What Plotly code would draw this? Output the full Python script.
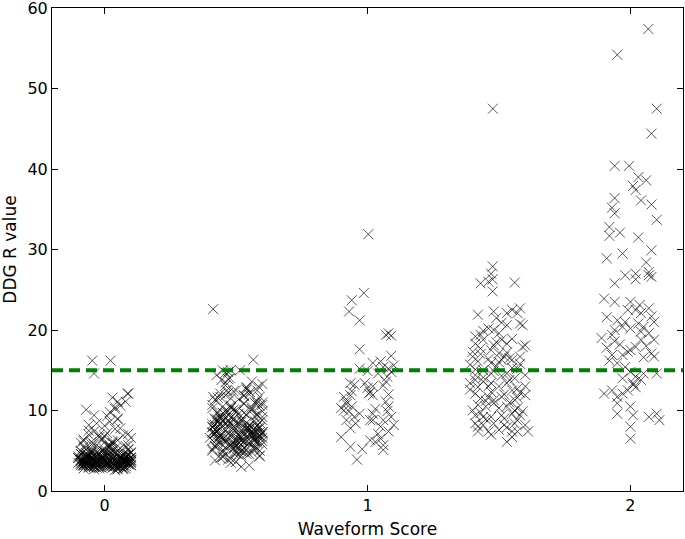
import plotly.graph_objects as go

# ---------------- data ----------------
threshold = 15
x_ticks = [0, 1, 2]
y_ticks = [0, 10, 20, 30, 40, 50, 60]

# score 0 : jitter offsets and values
g0_off = [
    -0.09,-0.05,0.02,0.07,-0.03,0.09,-0.07,0.00,0.04,-0.01,0.06,-0.08,0.03,-0.06,0.08,-0.02,0.05,-0.04,0.01,0.10,
    0.02,-0.10,0.07,-0.04,0.05,-0.07,0.09,0.00,-0.02,0.03,-0.08,0.06,-0.05,0.08,0.01,-0.03,0.04,-0.09,0.10,-0.06,
    -0.01,0.05,-0.06,0.09,0.03,-0.09,0.07,-0.03,0.01,-0.07,0.04,0.08,-0.04,0.00,0.06,-0.08,0.02,-0.05,0.10,-0.02,
    0.04,-0.08,0.01,-0.03,0.07,-0.10,0.05,0.09,-0.06,0.02,-0.01,0.06,-0.07,0.03,0.08,-0.04,0.00,-0.09,0.05,-0.05,
    -0.07,0.03,0.08,-0.02,-0.05,0.06,0.00,-0.09,0.10,0.02,-0.04,0.07,-0.06,0.04,-0.01,0.09,-0.08,0.01,0.05,-0.03,
    0.00,-0.06,0.05,-0.09,0.08,-0.03,0.03,0.07,-0.07,0.01,-0.04,0.10,-0.01,0.06,-0.08,0.04,-0.02,0.09,-0.05,0.02,
    0.06,-0.02,-0.08,0.03,0.09,-0.05,0.01,-0.10,0.04,0.07,-0.03,0.00,0.08,-0.06,0.05,-0.01,-0.07,0.02,0.10,-0.04,
    -0.03,0.08,-0.06,0.02,0.05,-0.09,0.07,-0.01,0.04,-0.07,0.09,0.00,-0.04,0.06,-0.08,0.03,0.10,-0.02,0.01,-0.05,
    0.05,-0.04,0.09,-0.07,0.02,-0.01,0.07,-0.09,0.03,0.00,-0.06,0.08,-0.03,0.04,0.06,-0.08,0.01,-0.05,0.10,-0.02,
    -0.07,0.00,0.06,-0.03,0.09,0.03,-0.09,0.05,-0.05,0.08,-0.01,0.02,-0.08,0.07,-0.04,0.04,0.01,-0.06,0.10,-0.02,
    0.03,-0.06,0.09,-0.02,0.05,-0.09,0.01,0.07,-0.04,0.00,-0.07,0.04,0.10,-0.03,0.06,-0.08,0.02,-0.05,0.08,-0.01,
    -0.05,0.08,-0.01,0.04,-0.08,0.06,-0.03,0.01,0.09,-0.06,0.03,-0.10,0.07,-0.02,0.05,0.00,-0.07,0.02,-0.04,0.10,
    0.01,-0.03,0.06,-0.09,0.08,-0.05,0.03,-0.01,0.05,-0.07,0.10,-0.04,0.02,0.07,-0.08,0.04,-0.02,0.09,-0.06,0.00,
    -0.047,0.023,-0.04,0.087,0.08]
g0_y = [
    3.2,4.1,3.6,2.9,4.8,3.4,3.9,5.2,3.1,4.4,3.7,2.8,4.0,3.3,5.6,3.8,4.6,3.0,3.5,4.2,
    3.9,3.5,4.3,2.7,3.3,4.7,3.6,3.0,5.4,4.5,3.8,3.1,6.1,4.0,3.4,3.7,2.6,4.9,3.2,4.4,
    6.5,3.6,4.2,5.1,2.9,3.7,4.6,3.3,7.2,4.1,3.5,2.8,5.8,4.4,3.9,6.4,3.2,3.8,4.7,3.4,
    4.0,5.5,3.1,3.6,6.9,4.3,3.0,3.9,7.5,4.8,3.4,5.3,3.6,6.0,4.5,3.1,8.1,3.5,2.7,4.2,
    3.3,4.6,3.8,6.7,3.0,4.1,3.7,5.0,3.5,8.6,4.4,3.2,7.0,3.9,2.9,5.7,4.0,3.4,6.3,3.6,
    4.9,3.1,9.0,3.8,4.3,3.5,5.9,2.8,4.2,3.3,9.4,3.6,4.0,7.8,3.2,4.7,3.7,4.5,5.2,3.0,
    3.4,4.5,6.2,3.1,3.9,4.8,3.6,4.1,10.2,3.3,4.0,6.8,3.7,2.9,8.9,4.2,3.5,5.5,3.8,7.4,
    3.6,4.3,3.0,9.8,3.4,4.6,3.9,5.1,3.2,3.7,7.1,4.4,3.5,10.6,3.1,4.0,6.6,2.8,4.7,3.9,
    11.1,3.8,12.1,3.2,5.4,4.1,3.6,6.0,4.9,3.3,8.2,3.7,4.4,7.7,3.0,3.5,9.3,5.8,4.1,3.4,
    10.1,3.9,4.2,8.4,3.5,11.6,4.6,3.1,5.0,3.8,6.3,4.5,3.3,4.0,3.6,10.4,5.6,4.3,3.2,7.0,
    3.5,4.0,3.3,4.6,2.8,3.9,4.3,3.6,3.0,4.1,5.1,3.2,3.8,4.4,3.4,3.7,5.7,4.9,3.1,3.6,
    4.2,3.4,3.9,5.3,3.3,4.0,2.9,3.7,4.5,3.5,6.2,4.1,3.8,3.0,5.0,3.6,4.4,3.2,3.9,4.8,
    3.1,3.8,4.2,3.4,3.6,4.7,3.3,4.0,3.5,4.4,3.9,3.2,5.6,2.7,3.7,4.3,3.0,5.2,3.6,4.6,
    16.2,16.2,14.6,12.1,11.1]

# score 0.5
g05_off = [
    -0.08,0.03,-0.02,0.07,-0.05,0.09,0.00,-0.09,0.05,-0.03,0.08,-0.06,0.01,0.04,-0.01,0.06,-0.07,0.02,-0.04,0.10,
    0.02,-0.07,0.06,-0.01,0.09,-0.04,0.04,-0.09,0.00,0.07,-0.02,0.05,-0.06,0.01,0.08,-0.03,0.03,-0.08,-0.05,0.10,
    -0.06,0.00,0.05,-0.09,0.08,-0.02,0.03,-0.05,0.07,-0.07,0.01,0.09,-0.03,0.04,-0.08,0.06,-0.01,0.02,-0.04,0.10,
    0.04,-0.08,0.01,0.07,-0.03,0.09,-0.06,0.02,-0.01,0.06,-0.09,0.03,0.08,-0.04,0.00,-0.07,0.05,-0.02,0.10,-0.05,
    -0.02,0.05,-0.07,0.03,0.08,-0.04,0.00,-0.09,0.06,-0.01,0.04,-0.06,0.09,0.02,-0.05,0.07,-0.03,0.01,-0.08,0.10,
    0.08,-0.05,0.02,-0.08,0.05,-0.02,0.07,-0.04,0.00,0.03,-0.10,0.06,-0.06,0.09,-0.01,0.04,-0.07,0.01,-0.03,0.10,
    -0.04,0.06,-0.09,0.01,0.09,-0.06,0.04,-0.01,0.07,-0.03,0.02,-0.08,0.05,0.00,-0.05,0.08,-0.02,0.03,-0.07,0.10,
    0.00,-0.06,0.07,-0.03,0.04,-0.09,0.09,-0.01,0.05,-0.07,0.02,0.06,-0.04,0.08,-0.08,0.03,-0.02,0.01,-0.05,0.10,
    0.06,-0.02,-0.08,0.03,0.09,-0.05,0.01,0.05,-0.07,0.07,-0.03,0.00,-0.09,0.04,0.02,-0.06,0.08,-0.01,-0.04,0.10,
    -0.07,0.04,-0.01,0.08,-0.05,0.02,0.06,-0.09,0.00,0.09,-0.03,0.05,-0.06,0.03,-0.08,0.07,-0.02,0.01,-0.04,0.10,
    0.05,-0.08,0.02,-0.04,0.07,-0.01,0.09,-0.06,0.03,-0.09,0.06,0.00,-0.03,0.08,-0.07,0.04,-0.05,0.01,-0.02,0.10,
    -0.087,0.066,-0.074,-0.05,-0.023,0.015,-0.03,-0.055,-0.02,0.085,0.08,0.06,-0.087,-0.06,-0.035,0.0,0.03,0.053,0.10,0.09]
g05_y = [
    7.2,5.4,9.1,6.3,4.8,8.5,7.7,10.3,6.0,3.9,11.2,6.8,8.2,5.1,12.4,7.0,9.6,4.4,7.5,6.6,
    8.8,6.1,10.0,5.7,7.3,13.1,4.6,8.0,6.4,9.3,3.5,7.8,11.7,6.9,5.3,8.6,10.8,7.1,4.2,9.9,
    5.9,7.4,12.0,8.3,6.2,10.6,7.0,4.9,8.7,6.6,11.4,5.0,9.5,7.7,3.8,10.2,6.0,8.9,13.5,7.3,
    6.7,9.0,5.5,11.0,7.9,4.3,8.4,6.3,10.1,7.2,5.2,9.7,6.0,11.9,4.7,7.6,8.1,5.8,9.2,6.5,
    7.0,3.2,8.5,6.1,10.9,5.4,9.8,7.3,4.8,8.0,12.6,6.9,7.8,5.0,10.5,6.4,8.8,4.5,11.3,7.1,
    9.4,6.8,7.5,5.6,8.2,11.5,6.2,9.1,3.6,7.9,6.6,10.4,4.1,8.0,6.9,12.8,7.4,5.1,9.9,5.8,
    8.3,7.1,10.7,6.0,4.4,7.8,9.5,5.3,6.7,13.9,8.6,7.2,5.9,10.1,6.4,7.6,4.0,11.8,8.9,6.2,
    5.6,9.3,7.0,12.2,8.5,6.3,10.6,4.7,7.7,9.8,3.0,6.8,14.7,8.1,5.5,7.3,10.3,6.5,8.7,11.0,
    7.4,5.7,8.9,10.9,6.6,4.3,9.6,7.1,11.6,5.2,8.2,6.1,7.9,12.9,4.9,8.4,7.2,9.0,6.3,13.3,
    6.4,7.8,5.2,8.1,9.7,6.6,7.4,5.0,8.6,6.9,7.1,4.6,9.0,6.2,7.6,5.6,8.4,7.0,6.0,8.8,
    7.5,8.2,6.3,10.0,5.4,7.7,6.8,9.1,4.9,7.2,8.0,5.8,6.5,9.5,7.9,6.1,5.1,8.5,10.4,7.3,
    22.6,16.3,14.4,15.0,14.0,15.0,14.8,13.8,15.0,13.0,12.5,13.6,11.7,12.1,12.5,12.5,11.9,12.3,10.7,11.7]

# score 1
g1_x = [1.003,0.986,0.94,0.93,0.97,1.07,1.09,1.08,0.97,1.09,1.02,1.05,1.06,1.08,1.09,1.075,0.97,0.935,0.95,0.99,
        1.0,1.01,1.02,1.005,1.02,0.91,0.935,0.92,0.90,0.94,0.93,0.95,0.92,0.955,0.935,1.07,1.08,1.075,1.09,1.06,
        1.10,1.08,1.05,1.02,1.01,1.02,0.90,0.935,0.98,0.96,1.01,1.03,1.06,1.05,1.06,
        1.04,1.10,1.07,0.92,0.94,1.03,1.08,1.0,0.97,1.06,0.91,1.04]
g1_y = [31.9,24.6,23.7,22.3,21.2,19.4,19.3,19.6,17.6,16.8,15.9,16.1,15.4,15.2,14.8,14.2,15.2,13.4,13.2,13.4,
        12.8,12.3,11.9,12.1,13.0,11.7,11.9,11.1,10.3,10.5,9.9,9.2,8.8,8.4,7.8,11.1,10.5,9.9,9.2,8.8,
        8.2,7.4,8.0,8.8,8.8,9.6,6.7,5.5,5.2,3.9,6.3,6.1,5.7,6.5,5.1,
        14.6,15.6,13.6,10.8,12.4,10.2,12.0,14.9,9.6,13.1,10.0,7.1]

# score 1.5
g15_x = [1.477,1.476,1.47,1.476,1.43,1.46,1.476,1.56,
         1.42,1.48,1.49,1.53,1.55,1.58,1.57,1.53,1.58,1.59,
         1.46,1.48,1.41,1.43,1.44,1.41,1.43,1.48,1.51,1.53,
         1.47,1.50,1.52,1.54,1.55,1.59,1.60,1.58,1.51,
         1.40,1.39,1.42,1.44,1.41,1.47,1.53,1.57,
         1.39,1.41,1.44,1.47,1.50,1.53,1.55,1.57,1.60,1.60,
         1.41,1.43,1.46,1.48,1.51,1.56,1.42,1.45,1.50,1.53,1.57,
         1.41,1.44,1.47,1.51,1.55,1.58,1.41,1.44,1.48,1.52,1.56,1.60,
         1.42,1.46,1.50,1.55,1.57,1.61,1.53,1.55,1.47,
         1.44,1.49,1.52,1.46,1.56,1.42,1.50,1.54,1.40,1.58,1.45,1.53,1.47,1.59,1.43,1.51,1.55,1.41,1.48,1.57,
         1.46,1.52,1.44,1.50,1.60,1.42,1.54,1.47,1.39,1.56,1.49,1.53,1.45,1.58,1.51,1.43,1.48,1.55,1.40,1.57]
g15_y = [47.5,27.9,27.0,26.3,25.8,26.0,24.8,25.9,
         21.9,22.3,21.5,22.1,22.5,22.7,22.1,20.6,20.8,20.6,
         20.2,20.0,19.2,19.4,18.8,18.3,17.7,18.1,18.8,18.3,
         17.5,17.1,16.7,16.5,16.3,17.9,18.1,16.7,16.3,
         16.7,15.7,16.1,15.0,14.4,14.6,14.6,15.2,
         13.4,13.8,13.6,13.4,13.0,13.4,12.5,12.7,13.0,11.9,
         12.1,11.5,11.7,11.3,11.7,11.3,10.7,10.5,10.3,10.5,10.3,
         9.4,9.2,9.2,9.4,9.6,9.4,8.4,8.2,8.4,8.2,8.4,8.2,
         7.4,7.4,7.6,7.4,7.4,7.4,6.1,6.7,7.0,
         14.1,15.5,12.0,16.4,14.0,12.9,19.6,11.0,10.0,15.8,8.9,17.2,12.3,9.9,17.0,14.3,18.9,15.1,10.9,11.6,
         13.0,9.0,19.9,16.0,14.4,8.0,13.8,15.9,12.6,10.0,18.5,7.9,11.2,12.2,20.9,9.7,14.9,15.3,17.3,8.8]

# score 2
g2_x = [2.068,1.95,2.10,2.08,1.94,1.995,2.03,2.06,2.01,2.02,2.04,2.08,1.94,1.93,1.94,2.10,1.92,1.96,1.92,2.03,
        1.91,1.97,2.08,2.06,2.07,2.08,2.07,1.98,2.02,2.02,1.94,1.90,1.94,2.00,2.035,2.02,2.07,2.08,2.04,1.91,
        1.99,1.95,1.94,1.93,1.97,1.98,2.05,2.07,2.09,2.04,2.02,2.00,1.93,1.97,1.99,2.09,2.08,
        1.95,2.00,2.02,2.04,2.05,2.10,2.01,1.90,1.93,1.95,1.97,1.99,2.01,1.95,
        1.95,2.00,2.01,2.07,2.10,2.11,2.00,2.00,
        1.89,1.96,2.03,2.06,1.92,1.98,2.04,2.09,1.91,2.00,2.05,1.94,2.02,1.97]
g2_y = [57.4,54.2,47.5,44.4,40.4,40.4,39.0,38.6,37.9,37.4,36.1,35.6,36.4,35.2,34.5,33.7,32.8,32.1,31.7,31.5,
        28.9,29.5,29.9,28.4,27.2,26.6,26.8,26.8,27.0,26.3,25.8,23.9,23.5,23.5,23.1,22.5,22.7,21.7,22.1,21.6,
        22.5,21.2,20.0,19.4,20.4,21.0,20.4,19.6,18.8,18.8,17.9,17.5,16.9,16.9,17.3,16.7,17.1,
        15.9,14.8,14.2,13.8,14.6,14.6,13.4,12.1,12.5,11.7,12.1,12.5,13.2,10.9,
        9.6,10.5,9.4,9.2,9.6,8.8,8.0,6.5,
        19.0,18.2,20.8,18.0,16.2,15.4,19.8,21.0,17.8,20.2,16.6,18.6,12.9,14.0]

base_scores = [0, 0.5]

# ---------------- figure ----------------
marker_style = dict(symbol="x-thin-open", size=10, color="rgba(0,0,0,0.65)",
                    line=dict(width=1, color="rgba(0,0,0,0.65)"))

groups = [
    ([base_scores[0] + o for o in g0_off], g0_y),
    ([base_scores[1] + o for o in g05_off], g05_y),
    (g1_x, g1_y),
    (g15_x, g15_y),
    (g2_x, g2_y),
]

fig = go.Figure()
for gx, gy in groups:
    fig.add_trace(go.Scatter(x=gx, y=gy, mode="markers", marker=marker_style,
                             showlegend=False, hoverinfo="skip"))

fig.add_trace(go.Scatter(x=[-0.2, 2.2], y=[threshold, threshold], mode="lines",
                         line=dict(color="#008000", width=4, dash="11px,6px"),
                         showlegend=False, hoverinfo="skip"))

axis_common = dict(showline=True, linecolor="black", linewidth=1, mirror="ticks",
                   ticks="inside", ticklen=6, tickwidth=1, tickcolor="black",
                   showgrid=False, zeroline=False, ticklabeloverflow="allow",
                   tickfont=dict(family="DejaVu Sans", size=16, color="black"))

fig.update_xaxes(range=[-0.2, 2.2], tickvals=x_ticks, ticktext=[str(t) for t in x_ticks],
                 title=dict(text="Waveform Score", standoff=8,
                            font=dict(family="DejaVu Sans", size=17, color="black")),
                 automargin=False, **axis_common)
fig.update_yaxes(range=[0, 60.01], tickvals=y_ticks, ticktext=[str(t) for t in y_ticks],
                 title=dict(text="DDG R value", standoff=6,
                            font=dict(family="DejaVu Sans", size=17, color="black")),
                 automargin=False, **axis_common)

fig.update_layout(width=685, height=539, margin=dict(l=52, r=2, t=8, b=48, autoexpand=False),
                  plot_bgcolor="white", paper_bgcolor="white")

fig.write_html("out.html", config={"displayModeBar": False},
               post_script="document.body.style.margin='0';")
